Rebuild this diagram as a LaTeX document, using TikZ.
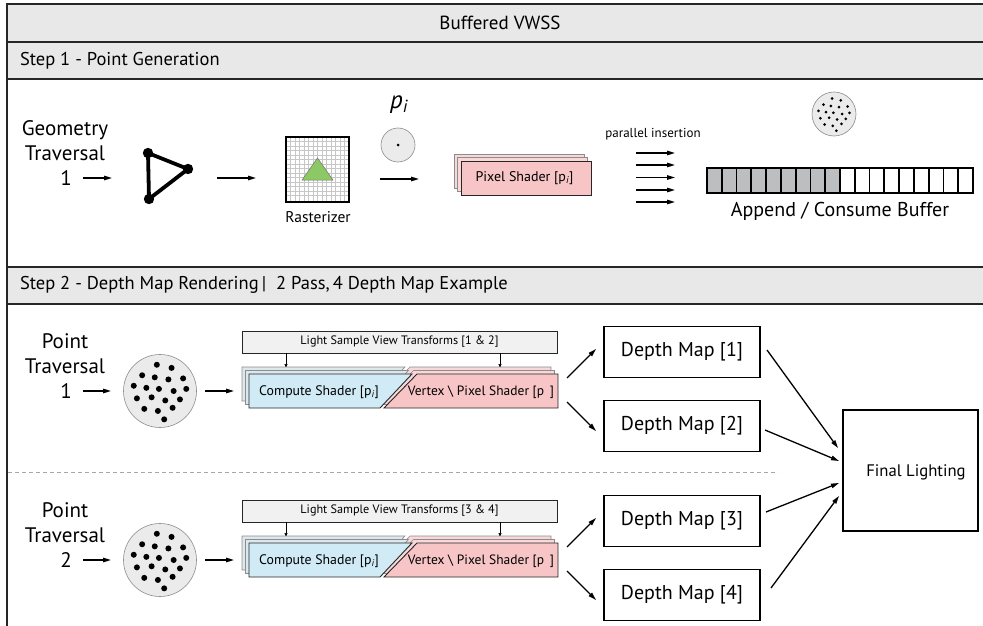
\documentclass[tikz,border=0pt]{standalone}
\usepackage{fontspec}
\setmainfont{PT Sans}
\usetikzlibrary{arrows.meta,calc}
\definecolor{hdrgray}{HTML}{E8E8E8}
\definecolor{pinkf}{HTML}{F7C5C6}
\definecolor{pinkb}{HTML}{F8D8D9}
\definecolor{bluef}{HTML}{D0EBF6}
\definecolor{blueb}{HTML}{DCE8EE}
\definecolor{greenf}{HTML}{8CC863}
\definecolor{cellgray}{HTML}{BDBEC0}
\definecolor{cloudf}{HTML}{EBEBEB}
\definecolor{lsvtf}{HTML}{F1F1F1}
\newcommand{\fsz}[2]{\fontsize{#1}{#2}\selectfont}
\begin{document}
\begin{tikzpicture}[x=1pt,y=-1pt,
  every node/.style={inner sep=0pt, outer sep=0pt},
  arr/.style={-{Triangle[length=8pt,width=4.5pt]}, line width=1.3pt},
  sarr/.style={-{Triangle[length=4pt,width=3pt]}, line width=0.6pt},
  hdr/.style={draw=black!85, line width=1.8pt, fill=hdrgray},
  hdrtext/.style={font=\fsz{18.5}{21}, anchor=west},
  bigtext/.style={font=\fsz{21}{25}, align=center},
  dmbox/.style={draw, line width=1.6pt, minimum width=156pt, minimum height=51pt, font=\fsz{20}{22}},
  cloudc/.style={circle, draw=black!45, line width=0.6pt, fill=cloudf},
  backedge/.style={draw=black!45, line width=0.6pt},
  frontedge/.style={draw=black!85, line width=0.9pt},
  dashline/.style={draw=black!35, line width=0.9pt, dash pattern=on 4pt off 3pt}
]
\useasboundingbox (0,0) rectangle (983,626);
\fill[white] (0,0) rectangle (983,626);
\begin{scope}
\clip (0,0) rectangle (983,626);

% ---------- headers ----------
\draw[hdr] (7,4) rectangle (995,42);
\draw[hdr] (7,42) rectangle (995,79);
\draw[hdr] (7,267) rectangle (995,304);
\draw[line width=1.8pt, draw=black!85] (7,4) -- (7,640);
\node[font=\fsz{19}{21}] (title) at (500,23) {Buffered VWSS};
\node[hdrtext] (step1) at (20,61) {Step 1 - Point Generation};
\node[hdrtext] (step2) at (20,285) {Step 2 - Depth Map Rendering\,|\ \ 2 Pass,\,4 Depth Map Example};

% ---------- step 1 ----------
\node[bigtext] (geo) at (65,141) {Geometry\\Traversal};
\node[font=\fsz{21}{22}] (geonum) at (66,178) {1};
\coordinate (geoS) at (83,178);
\coordinate (geoE) at (112,178);
\draw[arr] (geoS) -- (geoE);

\coordinate (tA) at (148,153);
\coordinate (tB) at (188,169);
\coordinate (tC) at (149,199);
\draw[line width=3.8pt, line join=round] (tA) -- (tB) -- (tC) -- cycle;
\foreach \v in {tA,tB,tC} \fill (\v) circle (5.2);

\coordinate (triS) at (217,178);
\coordinate (triE) at (256,178);
\draw[arr] (triS) -- (triE);

% rasterizer
\foreach \gx in {290.5,295,...,346} \draw[black!22, line width=0.5pt] (\gx,137) -- (\gx,202);
\foreach \gy in {141.5,146,...,199} \draw[black!22, line width=0.5pt] (286,\gy) -- (349,\gy);
\node[draw, line width=1.8pt, minimum width=63pt, minimum height=65pt] (rast) at (317.5,169.5) {};
\draw[fill=greenf, draw=black!55, line width=0.5pt] (302,180) -- (333,180) -- (317.5,158) -- cycle;
\node[font=\fsz{15.5}{17}] (rastlbl) at (318,217) {Rasterizer};

% single point
\node[font=\fsz{25}{26}\itshape] (pilbl) at (399,105) {p\textsubscript{i}};
\node[cloudc, minimum size=34pt] (pt) at (398,145) {};
\fill (pt.center) circle (1.5);
\coordinate (ptS) at (380,179);
\coordinate (ptE) at (419,179);
\draw[arr] (ptS) -- (ptE);

% pixel shader stack
\draw[backedge, fill=pinkb] (454,154) rectangle (584,188);
\draw[backedge, fill=pinkb] (457.5,157.5) rectangle (587.5,191.5);
\node[draw=black!85, line width=0.9pt, fill=pinkf, minimum width=130pt, minimum height=34pt] (ps) at (526,178) {};
\node[font=\fsz{14}{16}] (pslbl) at (524.5,178) {Pixel Shader [p\textsubscript{\itshape i}]};

% parallel insertion
\node[font=\fsz{13}{15}] (parlbl) at (653,134) {parallel insertion};
\foreach \py [count=\k] in {153,165,177.5,190,202} {
  \coordinate (parS\k) at (636,\py);
  \coordinate (parE\k) at (675,\py);
  \draw[arr] (parS\k) -- (parE\k);
}

% buffer
\foreach \k in {0,...,17} {
  \pgfmathsetmacro{\xa}{707+\k*14.78}
  \pgfmathsetmacro{\xb}{707+(\k+1)*14.78}
  \ifnum\k<9
    \fill[cellgray] (\xa,168) rectangle (\xb,193);
  \fi
  \draw[line width=1.8pt] (\xa,168) rectangle (\xb,193);
}
\node[font=\fsz{20}{22}] (buflbl) at (840,211) {Append / Consume Buffer};

% small cloud
\node[cloudc, minimum size=44pt] (scloud) at (834,114) {};
\foreach \dx/\dy in {-3/-25,11/-22,-17/-15,-5/-13,8/-11,22/-12,-25/-5,-13/-3,-1/-2,13/0,25/-2,-22/7,-8/6,5/9,19/8,-15/17,-2/19,12/16,4/27}
  \fill (scloud.center) ++(0.62*\dx,0.62*\dy) circle (1.5);

% ---------- step 2 ----------
\draw[dashline] (8,472) -- (778,472);

\foreach \yc/\n/\da/\db/\la/\lb in {391/1/1/2/1/2, 560/2/3/4/3/4} {
  \node[bigtext] (trav\n) at (65,\yc-37) {Point\\Traversal};
  \node[font=\fsz{21}{22}] (travnum\n) at (66,\yc) {\n};
  \coordinate (travS\n) at (83,\yc);
  \coordinate (travE\n) at (111,\yc);
  \draw[arr] (travS\n) -- (travE\n);

  \node[cloudc, minimum size=73pt] (cloud\n) at (160,\yc) {};
  \foreach \dx/\dy in {-3/-25,11/-22,-17/-15,-5/-13,8/-11,22/-12,-25/-5,-13/-3,-1/-2,13/0,25/-2,-22/7,-8/6,5/9,19/8,-15/17,-2/19,12/16,4/27}
    \fill (cloud\n.center) ++(1.05*\dx,1.05*\dy) circle (3);
  \coordinate (clS\n) at (205,\yc);
  \coordinate (clE\n) at (234,\yc);
  \draw[arr] (clS\n) -- (clE\n);

  % light sample view transforms
  \node[draw=black!85, line width=0.9pt, fill=lsvtf, minimum width=315pt, minimum height=22pt, font=\fsz{12.2}{14}] (lsvt\n) at (399.5,\yc-49) {Light Sample View Transforms [\la\ \& \lb]};
  \coordinate (lsA\n) at (286,\yc-38);
  \coordinate (lsAe\n) at (286,\yc-23);
  \coordinate (lsB\n) at (500,\yc-38);
  \coordinate (lsBe\n) at (500,\yc-23);
  \draw[sarr] (lsA\n) -- (lsAe\n);
  \draw[sarr] (lsB\n) -- (lsBe\n);

  % shader stack
  \foreach \s/\bf/\pf/\ed in {7/blueb/pinkb/backedge, 3.5/blueb/pinkb/backedge, 0/bluef/pinkf/frontedge} {
    \begin{scope}[shift={(-\s,-\s)}]
      \draw[\ed, fill=\bf] (249,\yc-17) -- (412,\yc-17) -- (380,\yc+17) -- (249,\yc+17) -- cycle;
      \draw[\ed, fill=\pf] (417,\yc-17) -- (558,\yc-17) -- (558,\yc+17) -- (384,\yc+17) -- cycle;
    \end{scope}
  }
  \node[font=\fsz{13.8}{15}] (cs\n) at (319,\yc+1) {Compute Shader [p\textsubscript{\itshape i}]};
  \node[font=\fsz{13.5}{15}] (vs\n) at (481,\yc+1) {Vertex \textbackslash\ Pixel Shader [p\ \,]};

  % depth maps
  \node[dmbox] (dm\da) at (682,\yc-39) {Depth Map [\da]};
  \node[dmbox] (dm\db) at (682,\yc+35) {Depth Map [\db]};
  \coordinate (shA\n) at (567,\yc-13);
  \coordinate (shB\n) at (567,\yc+11);
  \coordinate (dmInA\n) at (596,\yc-42);
  \coordinate (dmInB\n) at (596,\yc+40);
  \draw[arr] (shA\n) -- (dmInA\n);
  \draw[arr] (shB\n) -- (dmInB\n);
}

% final lighting
\node[draw, line width=1.6pt, minimum width=135pt, minimum height=121pt] (fl) at (910.5,470.5) {};
\node[font=\fsz{16.7}{18}] (fllbl) at (916,472) {Final Lighting};
\coordinate (o1) at (767,350); \coordinate (i1) at (838,448);
\coordinate (o2) at (765,430); \coordinate (i2) at (839,461);
\coordinate (o3) at (766,512); \coordinate (i3) at (839,483);
\coordinate (o4) at (771,588); \coordinate (i4) at (839,496);
\foreach \k in {1,...,4} \draw[arr] (o\k) -- (i\k);
\end{scope}
\end{tikzpicture}
\end{document}
